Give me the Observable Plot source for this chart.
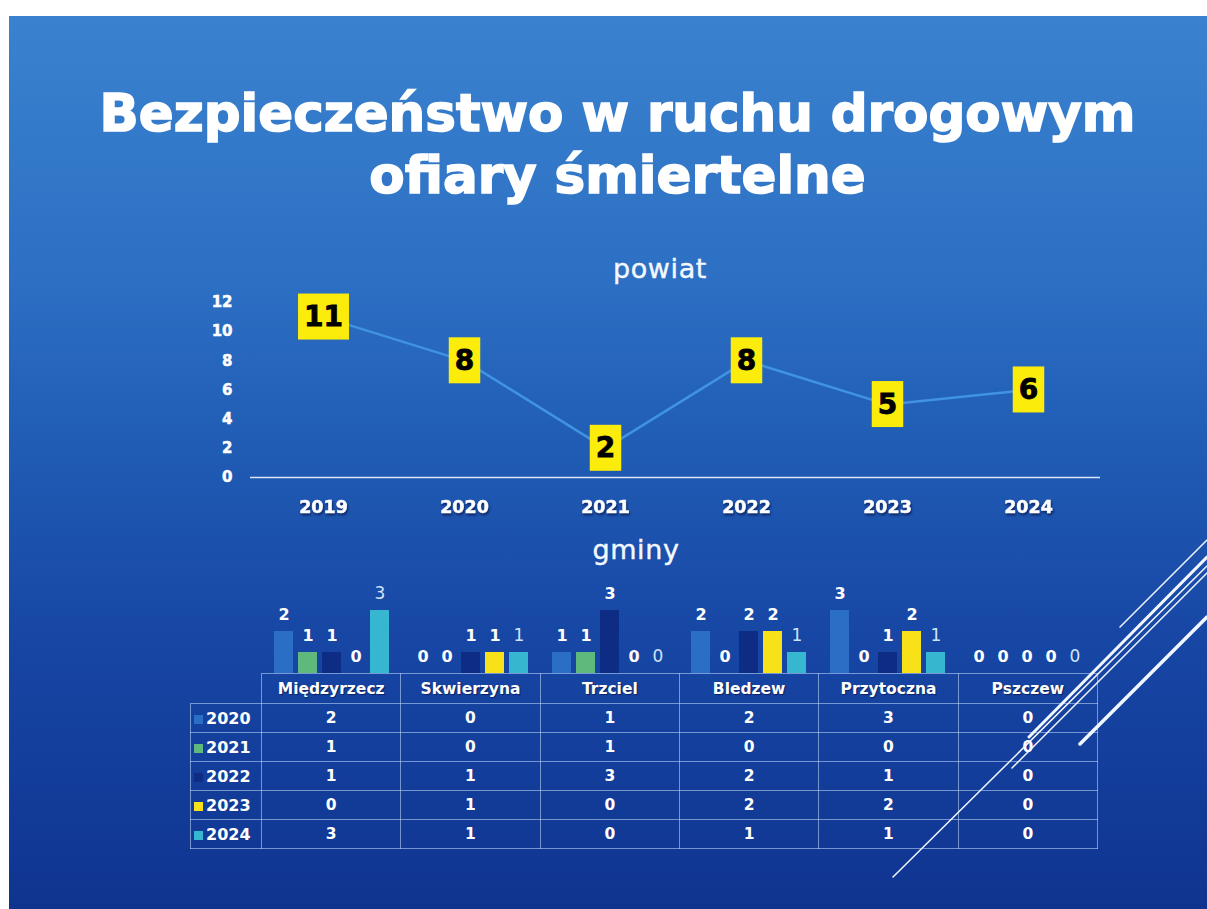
<!DOCTYPE html>
<html><head><meta charset="utf-8">
<script src="https://cdn.jsdelivr.net/npm/d3@7"></script>
<script src="https://cdn.jsdelivr.net/npm/@observablehq/plot@0.6"></script>
<style>
html,body{margin:0;padding:0;background:#fff;}
#page{position:relative;width:1207px;height:909px;overflow:hidden;background:#fff;font-family:"DejaVu Sans",sans-serif;}
#slide{position:absolute;left:9px;top:16px;right:0;bottom:0;background:linear-gradient(to bottom,#3a82cf 0%,#2c6fc3 30%,#1f5ab3 50%,#1746a4 70%,#0f3490 100%);}
#title{position:absolute;left:28px;width:1179px;top:82px;text-align:center;color:#fff;font-weight:bold;font-size:51.5px;line-height:62px;-webkit-text-stroke:1.6px #fff;}
.sub{position:absolute;width:200px;text-align:center;color:#f4f8ff;font-size:27px;line-height:30px;letter-spacing:0.6px;-webkit-text-stroke:0.4px #f4f8ff;}
#line,#bars{position:absolute;left:0;}
#line{top:290px;}
#bars{top:580px;}
#line svg g[aria-label="x-axis tick label"]{filter:drop-shadow(1px 2px 1px rgba(0,0,40,0.55));}
#line svg g[aria-label="x-axis tick label"] text,#line svg g[aria-label="y-axis tick label"] text{stroke:#fff;stroke-width:0.5px;}
#line svg g[aria-label="text"] text{stroke:#000;stroke-width:0.8px;}
#tbl{position:absolute;left:190px;top:673px;border-collapse:collapse;table-layout:fixed;width:907px;color:#fff;font-weight:bold;font-size:15.5px;}
#tbl td{border:1px solid rgba(185,210,245,0.6);padding:0;text-align:center;}
#tbl tr.h td{height:29px;font-size:15.5px;text-shadow:1px 1px 1px rgba(0,0,40,0.5);}
#tbl tr.r td{height:28px;}
#tbl td.corner{border-top:none;border-left:none;}
#tbl td.rh{text-align:left;padding-left:3px;font-size:16px;white-space:nowrap;}
.sw{display:inline-block;width:9px;height:9px;margin-right:3px;vertical-align:0px;}
#deco{position:absolute;left:0;top:0;}
</style>
</head><body>
<div id="page">
  <div id="slide"></div>
  <div id="title">Bezpieczeństwo w ruchu drogowym<br>ofiary śmiertelne</div>
  <div class="sub" style="left:560px;top:254px;">powiat</div>
  <div id="line"></div>
  <div class="sub" style="left:536px;top:535px;">gminy</div>
  <div id="bars"></div>
  <table id="tbl"></table>
  <svg id="deco" width="1207" height="909"></svg>
</div>
<script>
// ---- data ----
const powiatYears = ["2019","2020","2021","2022","2023","2024"];
const powiatValues = [11, 8, 2, 8, 5, 6];

const gminy = ["Międzyrzecz","Skwierzyna","Trzciel","Bledzew","Przytoczna","Pszczew"];
const gminyYears = ["2020","2021","2022","2023","2024"];
const v2020 = [2, 0, 1, 2, 3, 0];
const v2021 = [1, 0, 1, 0, 0, 0];
const v2022 = [1, 1, 3, 2, 1, 0];
const v2023 = [0, 1, 0, 2, 2, 0];
const v2024 = [3, 1, 0, 1, 1, 0];
const yearColors = ["#2a6ec6", "#5fb87c", "#0f2c85", "#f9e11a", "#37b6cf"];
const yTicks = [0, 2, 4, 6, 8, 10, 12];

const seriesByYear = [v2020, v2021, v2022, v2023, v2024];

// ---- line chart (powiat) ----
const lineData = powiatYears.map((y, i) => ({year: y, value: powiatValues[i]}));
const lineChart = Plot.plot({
  width: 1207, height: 230,
  marginLeft: 250, marginRight: 107, marginTop: 12, marginBottom: 43,
  style: {background: "transparent", color: "white", fontFamily: "DejaVu Sans", overflow: "visible"},
  x: {type: "point", domain: powiatYears, padding: 0.5},
  y: {domain: [0, 12]},
  marks: [
    Plot.axisY({ticks: yTicks, tickSize: 0, tickPadding: 18, fontSize: 15, fontWeight: "bold", label: null}),
    Plot.axisX({tickSize: 0, tickPadding: 23, fontSize: 17.5, fontWeight: "bold", label: null}),
    Plot.ruleY([0], {stroke: "#dce8f8", strokeWidth: 1.5}),
    Plot.line(lineData, {x: "year", y: "value", stroke: "#3f93e0", strokeWidth: 2.5}),
    Plot.text(lineData, {x: "year", y: "value", text: d => String(d.value), fill: "black", fontSize: 28, fontWeight: "bold"})
  ]
});
document.getElementById("line").append(lineChart);

// yellow boxes behind value labels
const NS = "http://www.w3.org/2000/svg";
lineChart.querySelectorAll('g[aria-label="text"] text').forEach(t => {
  const b = t.getBBox();
  const r = document.createElementNS(NS, "rect");
  r.setAttribute("x", b.x - 6);
  r.setAttribute("y", b.y - 6.5);
  r.setAttribute("width", b.width + 12);
  r.setAttribute("height", b.height + 13);
  r.setAttribute("fill", "#fcec0c");
  r.setAttribute("stroke", "none");
  const tr = t.getAttribute("transform");
  if (tr) r.setAttribute("transform", tr);
  t.parentNode.insertBefore(r, t);
});

// ---- grouped bars (gminy) ----
const barData = gminy.flatMap((g, i) => gminyYears.map((y, j) => ({gmina: g, year: y, value: seriesByYear[j][i]})));
const barChart = Plot.plot({
  width: 1207, height: 93,
  marginLeft: 261, marginRight: 110, marginTop: 30, marginBottom: 0,
  style: {background: "transparent", color: "white", fontFamily: "DejaVu Sans", overflow: "visible"},
  facet: {data: barData, x: "gmina"},
  fx: {domain: gminy, padding: 0, axis: null},
  x: {domain: gminyYears, paddingInner: 0.2, paddingOuter: 0.386, axis: null},
  y: {domain: [0, 3], axis: null},
  color: {domain: gminyYears, range: yearColors},
  marks: [
    Plot.barY(barData, {x: "year", y: "value", fill: "year"}),
    Plot.text(barData, {filter: d => d.year !== "2024", x: "year", y: "value", text: d => String(d.value), dy: -17, fill: "white", fontSize: 16, fontWeight: "bold"}),
    Plot.text(barData, {filter: d => d.year === "2024", x: "year", y: "value", text: d => String(d.value), dy: -17, fill: "#cfe4f6", fontSize: 17, fontWeight: "normal"})
  ]
});
document.getElementById("bars").append(barChart);

// ---- data table ----
const tbl = document.getElementById("tbl");
let html = '<colgroup><col style="width:71px">' + gminy.map(() => '<col style="width:139.33px">').join("") + '</colgroup>';
html += '<tr class="h"><td class="corner"></td>' + gminy.map(g => `<td>${g}</td>`).join("") + '</tr>';
gminyYears.forEach((y, j) => {
  html += `<tr class="r"><td class="rh"><span class="sw" style="background:${yearColors[j]}"></span>${y}</td>` +
    seriesByYear[j].map(v => `<td>${v}</td>`).join("") + '</tr>';
});
tbl.innerHTML = html;

// ---- decorative slide lines ----
const deco = d3.select("#deco");
[[893,877,1207,566,1.5],[1029,737,1207,557,3],[1080,744,1207,617,3.5],[1120,627,1207,540,1.5],[1012,768,1207,573,1.5]]
  .forEach(([x1,y1,x2,y2,w]) => deco.append("line").attr("x1",x1).attr("y1",y1).attr("x2",x2).attr("y2",y2)
    .attr("stroke","#f2f6ff").attr("stroke-width",w).attr("stroke-linecap","round"));
</script>
</body></html>
